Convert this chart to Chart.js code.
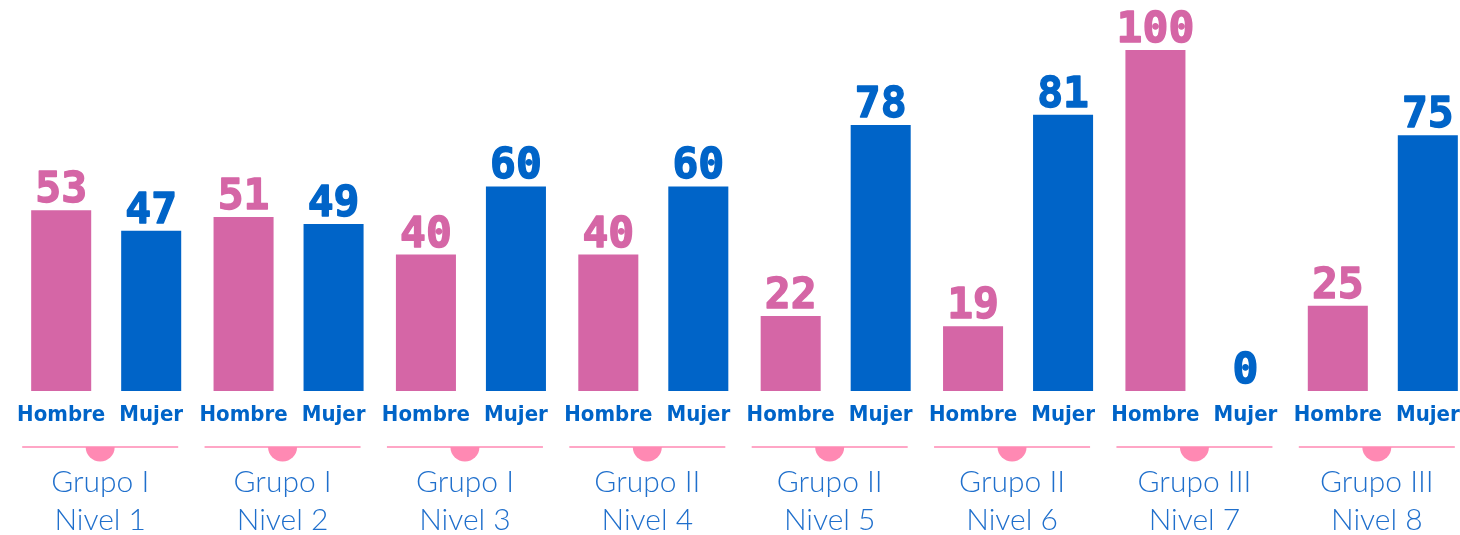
<!DOCTYPE html>
<html>
<head>
<meta charset="utf-8">
<script src="https://cdn.jsdelivr.net/npm/chart.js@4/dist/chart.umd.min.js"></script>
<style>
  html, body { margin: 0; padding: 0; background: #ffffff; overflow: hidden; }
  #wrap { width: 1474px; height: 535px; }
</style>
</head>
<body>
<div id="wrap"><canvas id="chart" width="1474" height="535"></canvas></div>
<script>
// Share of men and women by group / level (%)
const groupLabels = [
  ["Grupo I", "Nivel 1"], ["Grupo I", "Nivel 2"], ["Grupo I", "Nivel 3"],
  ["Grupo II", "Nivel 4"], ["Grupo II", "Nivel 5"], ["Grupo II", "Nivel 6"],
  ["Grupo III", "Nivel 7"], ["Grupo III", "Nivel 8"]
];
const hombreValues = [53, 51, 40, 40, 22, 19, 100, 25];
const mujerValues  = [47, 49, 60, 60, 78, 81, 0, 75];
const seriesNames  = ["Hombre", "Mujer"];

const PINK = "#d566a6";
const BLUE = "#0064c8";
const DECOR_PINK = "#ff89b3";
const LABEL_BLUE = "#1f6fcc";

// Draws value labels above bars, series names under each bar,
// and the divider + group labels under each category.
const annotate = {
  id: "annotate",
  afterDatasetsDraw(chart) {
    const ctx = chart.ctx;
    const xScale = chart.scales.x;
    const base = chart.chartArea.bottom;
    ctx.save();
    chart.data.datasets.forEach((ds, di) => {
      const meta = chart.getDatasetMeta(di);
      meta.data.forEach((bar, i) => {
        // value label (slightly thickened bold mono digits)
        ctx.font = "bold 43px 'DejaVu Sans Mono'";
        ctx.fillStyle = ds.backgroundColor;
        ctx.strokeStyle = ds.backgroundColor;
        ctx.lineWidth = 1.4;
        ctx.lineJoin = "round";
        ctx.textAlign = "center";
        ctx.textBaseline = "alphabetic";
        const txt = String(ds.data[i]);
        ctx.fillText(txt, bar.x, bar.y - 8);
        ctx.strokeText(txt, bar.x, bar.y - 8);
        // series name under the bar
        ctx.font = "bold 22px 'DejaVu Sans Condensed'";
        ctx.fillStyle = BLUE;
        ctx.fillText(seriesNames[di], bar.x, base + 30);
      });
    });
    groupLabels.forEach((lines, i) => {
      const cx = xScale.getPixelForValue(i) - 6;
      const ly = base + 56;
      ctx.strokeStyle = DECOR_PINK;
      ctx.lineWidth = 1.6;
      ctx.beginPath();
      ctx.moveTo(cx - 78, ly);
      ctx.lineTo(cx + 78, ly);
      ctx.stroke();
      ctx.fillStyle = DECOR_PINK;
      ctx.beginPath();
      ctx.arc(cx, ly, 14.5, 0, Math.PI, false);
      ctx.closePath();
      ctx.fill();
      ctx.font = "300 30px Lato";
      ctx.fillStyle = LABEL_BLUE;
      ctx.textAlign = "center";
      ctx.textBaseline = "alphabetic";
      ctx.fillText(lines[0], cx, base + 101);
      ctx.fillText(lines[1], cx, base + 139);
    });
    ctx.restore();
  }
};

new Chart(document.getElementById("chart"), {
  type: "bar",
  data: {
    labels: groupLabels,
    datasets: [
      { label: seriesNames[0], data: hombreValues, backgroundColor: PINK },
      { label: seriesNames[1], data: mujerValues, backgroundColor: BLUE }
    ]
  },
  options: {
    responsive: false,
    animation: false,
    layout: { padding: { left: 15, right: 0, top: 50, bottom: 144 } },
    datasets: { bar: { categoryPercentage: 0.987, barPercentage: 0.667 } },
    plugins: { legend: { display: false }, tooltip: { enabled: false } },
    scales: {
      x: { display: false },
      y: { display: false, min: 0, max: 100 }
    }
  },
  plugins: [annotate]
});
</script>
</body>
</html>
